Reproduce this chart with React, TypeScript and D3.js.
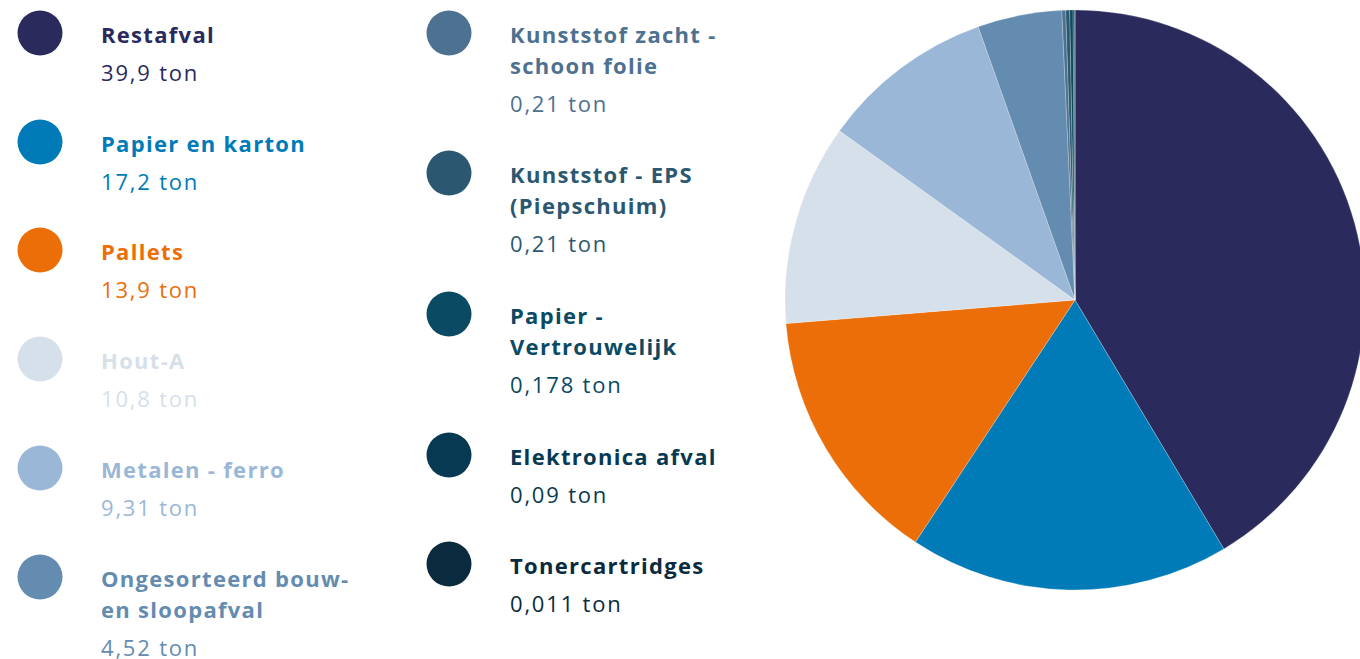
import React from "react";
import * as d3 from "d3";

const categories: string[][] = [
  ["Restafval"],
  ["Papier en karton"],
  ["Pallets"],
  ["Hout-A"],
  ["Metalen - ferro"],
  ["Ongesorteerd bouw-", "en sloopafval"],
  ["Kunststof zacht -", "schoon folie"],
  ["Kunststof - EPS", "(Piepschuim)"],
  ["Papier -", "Vertrouwelijk"],
  ["Elektronica afval"],
  ["Tonercartridges"],
];
const values: number[] = [39.9, 17.2, 13.9, 10.8, 9.31, 4.52, 0.21, 0.21, 0.178, 0.09, 0.011];
const valueLabels: string[] = ["39,9 ton", "17,2 ton", "13,9 ton", "10,8 ton", "9,31 ton", "4,52 ton", "0,21 ton", "0,21 ton", "0,178 ton", "0,09 ton", "0,011 ton"];
const colors: string[] = ["#2a2a5c", "#007bb8", "#eb6e08", "#d6e0ea", "#9ab7d7", "#648cb0", "#4d7190", "#2b5870", "#0a4a63", "#073a52", "#0a2a3d"];

const W = 1360, H = 659;
const font = "'Open Sans', sans-serif";

export default function App() {
  const pie = d3.pie<number>().sort(null).value((d) => d);
  const arcs = pie(values);
  const arc = d3.arc<d3.PieArcDatum<number>>().innerRadius(0).outerRadius(290);

  const col1 = [0, 1, 2, 3, 4, 5];
  const col2 = [6, 7, 8, 9, 10];
  const col1Y = [33, 142, 250, 359, 468, 577];
  const col2Y = [33, 173, 314, 455, 564];

  const renderItem = (i: number, cx: number, cy: number, tx: number) => {
    const lines = categories[i];
    return (
      <g key={i}>
        <circle cx={cx} cy={cy} r={22.5} fill={colors[i]} />
        {lines.map((l, j) => (
          <text key={j} x={tx} y={cy + 10 + j * 31} fill={colors[i]} fontFamily={font} fontWeight={700} fontSize={22} letterSpacing={1.3}>
            {l}
          </text>
        ))}
        <text x={tx} y={cy + 10 + (lines.length - 1) * 31 + 38} fill={colors[i]} fontFamily={font} fontWeight={400} fontSize={22} letterSpacing={1.8}>
          {valueLabels[i]}
        </text>
      </g>
    );
  };

  return (
    <svg width={W} height={H} style={{ position: "absolute", left: 0, top: 0 }}>
      <rect width={W} height={H} fill="#ffffff" />
      {col1.map((i, k) => renderItem(i, 40, col1Y[k], 101))}
      {col2.map((i, k) => renderItem(i, 449, col2Y[k], 510))}
      <g transform="translate(1075,300)">
        {arcs.map((a, i) => (
          <path key={i} d={arc(a) || ""} fill={colors[i]} stroke="#ffffff" strokeOpacity={0.4} strokeWidth={0.6} />
        ))}
      </g>
    </svg>
  );
}
